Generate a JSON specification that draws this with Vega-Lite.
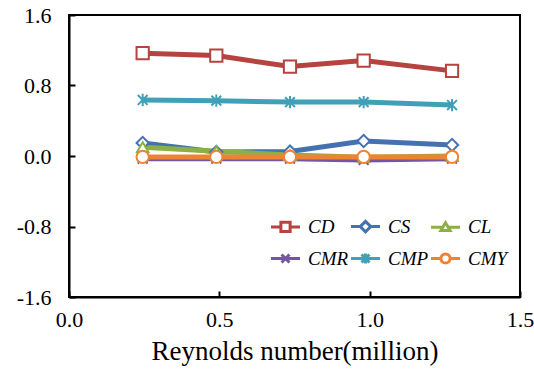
{
  "$schema": "https://vega.github.io/schema/vega-lite/v6.json",
  "width": 451,
  "height": 282,
  "autosize": "none",
  "padding": {"left": 69, "top": 15, "right": 14, "bottom": 82},
  "background": "white",
  "config": {
    "view": {"stroke": "black", "strokeWidth": 2},
    "font": "Liberation Serif",
    "axis": {
      "labelFont": "Liberation Serif",
      "labelFontSize": 22,
      "labelColor": "black",
      "titleFont": "Liberation Serif",
      "titleColor": "black",
      "titleFontWeight": "normal",
      "domainColor": "black",
      "domainWidth": 2,
      "tickColor": "black",
      "tickWidth": 2,
      "tickSize": -6,
      "grid": false
    }
  },
  "data": {
    "values": [
      {"Re": 0.245, "series": "CD", "value": 1.167},
      {"Re": 0.49, "series": "CD", "value": 1.14},
      {"Re": 0.735, "series": "CD", "value": 1.015},
      {"Re": 0.98, "series": "CD", "value": 1.083},
      {"Re": 1.274, "series": "CD", "value": 0.966},
      {"Re": 0.245, "series": "CS", "value": 0.148},
      {"Re": 0.49, "series": "CS", "value": 0.045},
      {"Re": 0.735, "series": "CS", "value": 0.05},
      {"Re": 0.98, "series": "CS", "value": 0.17},
      {"Re": 1.274, "series": "CS", "value": 0.125},
      {"Re": 0.245, "series": "CL", "value": 0.1},
      {"Re": 0.49, "series": "CL", "value": 0.055},
      {"Re": 0.735, "series": "CL", "value": 0.01},
      {"Re": 0.98, "series": "CL", "value": -0.015},
      {"Re": 1.274, "series": "CL", "value": 0.0},
      {"Re": 0.245, "series": "CMR", "value": -0.03},
      {"Re": 0.49, "series": "CMR", "value": -0.03},
      {"Re": 0.735, "series": "CMR", "value": -0.03},
      {"Re": 0.98, "series": "CMR", "value": -0.045},
      {"Re": 1.274, "series": "CMR", "value": -0.03},
      {"Re": 0.245, "series": "CMP", "value": 0.636},
      {"Re": 0.49, "series": "CMP", "value": 0.628},
      {"Re": 0.735, "series": "CMP", "value": 0.612},
      {"Re": 0.98, "series": "CMP", "value": 0.612},
      {"Re": 1.274, "series": "CMP", "value": 0.578},
      {"Re": 0.245, "series": "CMY", "value": -0.01},
      {"Re": 0.49, "series": "CMY", "value": -0.01},
      {"Re": 0.735, "series": "CMY", "value": -0.01},
      {"Re": 0.98, "series": "CMY", "value": -0.01},
      {"Re": 1.274, "series": "CMY", "value": -0.01}
    ]
  },
  "encoding": {
    "x": {
      "field": "Re", "type": "quantitative",
      "scale": {"domain": [0, 1.5], "nice": false},
      "axis": {"values": [0, 0.5, 1.0, 1.5], "labelExpr": "format(datum.value, '.1f')", "labelFont": "Liberation Serif", "labelFontSize": 22, "title": "Reynolds number(million)", "titleFont": "Liberation Serif", "titleFontSize": 27, "labelPadding": 18, "titlePadding": 8, "labelFlush": false}
    },
    "y": {
      "field": "value", "type": "quantitative",
      "scale": {"domain": [-1.6, 1.6], "nice": false, "zero": false},
      "axis": {"values": [-1.6, -0.8, 0, 0.8, 1.6], "labelExpr": "datum.value < 0 ? '-' + format(-datum.value, '.1f') : format(datum.value, '.1f')", "labelFont": "Liberation Serif", "labelFontSize": 22, "title": null, "labelPadding": 24, "labelFlush": false}
    },
    "color": {
      "field": "series", "type": "nominal",
      "scale": {
        "domain": ["CD", "CS", "CL", "CMR", "CMP", "CMY"],
        "range": ["#B5433F", "#4472B0", "#8DB045", "#7456A0", "#3FA0B8", "#EE8433"]
      },
      "legend": {
        "title": null,
        "orient": "none",
        "direction": "horizontal",
        "legendX": 207,
        "legendY": 202,
        "columns": 3,
        "gridAlign": "all",
        "padding": 0,
        "rowPadding": 9,
        "columnPadding": -5,
        "symbolSize": 174,
        "symbolStrokeWidth": 3,
        "labelFont": "Liberation Serif",
        "labelFontStyle": "italic",
        "labelFontSize": 19,
        "labelColor": "black",
        "labelOffset": 13,
        "encode": {
          "symbols": {
            "update": {
              "fill": {"value": "white"},
              "fillOpacity": {"value": 1},
              "opacity": {"value": 1},
              "strokeWidth": {"value": 3},
              "shape": {"signal": "datum.value === 'CD' ? 'M-2.2,0H-0.7M0.7,0H2.2M-0.7,-0.7H0.7V0.7H-0.7Z' : datum.value === 'CS' ? 'M-2.2,0H-0.8M0.8,0H2.2M-0.8,0L0,-0.8L0.8,0L0,0.8Z' : datum.value === 'CL' ? 'M-2.2,0H-0.42M0.42,0H2.2M-0.7,0.5L0,-0.7L0.7,0.5Z' : datum.value === 'CMR' ? 'M-2.2,0H2.2M-0.6,-0.6L0.6,0.6M-0.6,0.6L0.6,-0.6' : datum.value === 'CMP' ? 'M-2.2,0H2.2M-0.6,-0.6L0.6,0.6M-0.6,0.6L0.6,-0.6M0,-0.75V0.75' : 'M-2.2,0H-0.7M0.7,0H2.2M0.7,0A0.7,0.7,0,1,1,-0.7,0A0.7,0.7,0,1,1,0.7,0Z'"}
            }
          }
        }
      }
    }
  },
  "layer": [
    {
      "mark": {"type": "line", "strokeWidth": 5},
      "encoding": {
        "detail": {"field": "series"},
        "order": {"field": "Re"}
      }
    },
    {
      "transform": [{"filter": "datum.series === 'CD'"}],
      "mark": {"type": "point", "shape": "square", "filled": false, "fill": "white", "fillOpacity": 1, "opacity": 1, "strokeWidth": 2, "size": 150}
    },
    {
      "transform": [{"filter": "datum.series === 'CS'"}],
      "mark": {"type": "point", "shape": "diamond", "filled": false, "fill": "white", "fillOpacity": 1, "opacity": 1, "strokeWidth": 2, "size": 150}
    },
    {
      "transform": [{"filter": "datum.series === 'CL'"}],
      "mark": {"type": "point", "shape": "triangle-up", "filled": false, "fill": "white", "fillOpacity": 1, "opacity": 1, "strokeWidth": 2, "size": 130}
    },
    {
      "transform": [{"filter": "datum.series === 'CMR'"}],
      "mark": {"type": "point", "shape": "M-0.8,-0.8L0.8,0.8M-0.8,0.8L0.8,-0.8", "filled": false, "opacity": 1, "strokeWidth": 2, "size": 150}
    },
    {
      "transform": [{"filter": "datum.series === 'CMP'"}],
      "mark": {"type": "point", "shape": "M-0.8,-0.8L0.8,0.8M-0.8,0.8L0.8,-0.8M0,-1L0,1", "filled": false, "opacity": 1, "strokeWidth": 2, "size": 150}
    },
    {
      "transform": [{"filter": "datum.series === 'CMY'"}],
      "mark": {"type": "point", "shape": "circle", "filled": false, "fill": "white", "fillOpacity": 1, "opacity": 1, "strokeWidth": 2, "size": 150}
    }
  ]
}
